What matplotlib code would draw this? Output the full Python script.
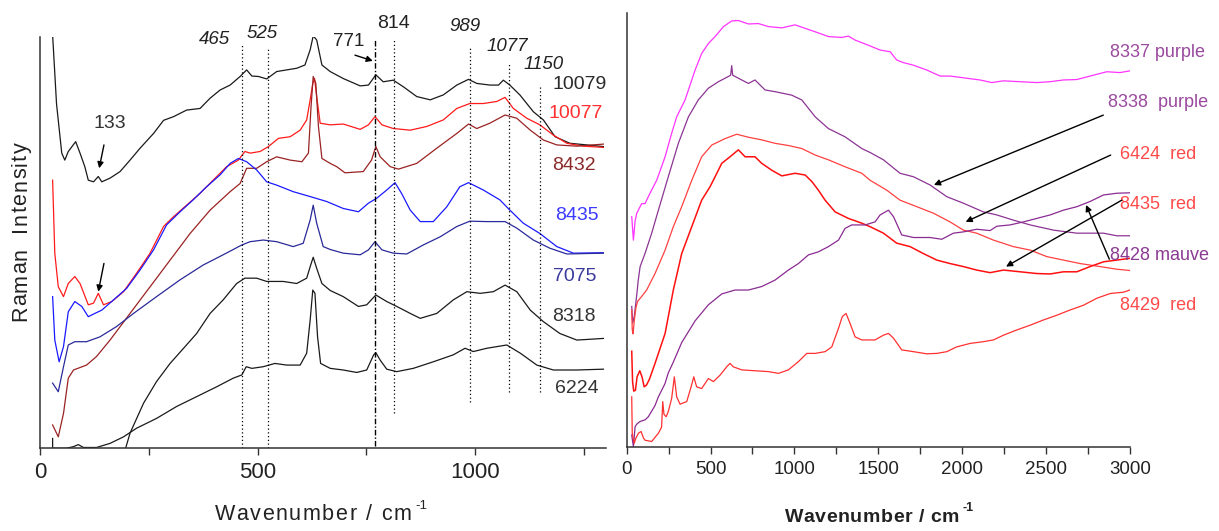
import matplotlib
matplotlib.use("Agg")
import matplotlib.pyplot as plt
from matplotlib import font_manager as fm
from matplotlib.font_manager import FontProperties

# ---------------- data ----------------
# Left panel: Raman spectra (wavenumber, relative intensity 0-100)
s10079 = [(29,100.8),(38,84),(50,72),(57,70.3),(65,72.4),(82,74.8),(92,72),(103,68.7),(111,65.4),(123,65),
          (134,66.3),(142,65),(161,65.9),(184,67.5),(207,70.3),(230,73.2),(261,76.8),(284,80),(307,80.9),
          (337,82.5),(368,82.9),(391,85.4),(414,87.4),(437,88.6),(460,90.7),(475,92.3),(487,90.8),(502,90.7),
          (521,90.1),(544,91.9),(567,92.3),(590,92.7),(609,93.5),(621,97.2),(628,100.6),(636,99.6),(648,93.5),
          (667,91.9),(697,90.2),(736,88.4),(755,88.6),(772,91.1),(789,89.4),(812,89.8),(835,88.2),(866,85.8),
          (897,85),(927,86.2),(958,88.6),(985,90),(1004,89),(1034,88.6),(1054,88.6),(1065,89.8),(1080,88.6),
          (1103,86.2),(1134,82.1),(1157,80.1),(1184,76),(1218,74.4),(1257,74),(1295,73.6)]
s10077 = [(29,65.4),(34,47.6),(42,39.4),(54,37),(65,40.2),(80,41.9),(92,40.2),(111,35),(123,35.4),(134,37.8),
          (146,35),(165,35.8),(192,38.2),(222,42.7),(253,47.6),(284,54.1),(307,56.5),(337,59.3),(368,62.2),
          (398,65.4),(429,68.7),(456,70.3),(471,72.4),(483,72),(506,72.4),(525,73.6),(548,75.6),(575,76),
          (598,77.6),(613,80.1),(621,85),(627,89),(631,90.2),(636,85.8),(644,79.3),(667,78.9),(697,79.1),
          (736,77.8),(755,78.9),(770,80.9),(786,78.9),(812,78),(851,77.6),(889,78.5),(927,80.1),(958,82.9),
          (988,84.1),(1019,84.1),(1050,84.6),(1069,85.6),(1088,82.9),(1119,80.5),(1149,78.9),(1180,76.4),
          (1211,74.4),(1249,73.7),(1295,73.4)]
s8432 = [(29,5.7),(42,2.8),(54,8.5),(65,17.1),(77,19.1),(107,20.3),(130,22.4),(161,26.4),(207,32.9),(253,39.4),
         (299,45.9),(345,52.4),(391,58.1),(437,62.6),(460,64.6),(475,68.3),(498,68.3),(521,69.9),(544,71.1),
         (575,70.3),(602,69.9),(617,72),(623,83.3),(628,90.7),(634,89),(640,78.5),(648,70.7),(667,69.5),
         (682,68.7),(701,67.2),(743,67.5),(762,70.3),(772,73.6),(782,71.1),(805,68.7),(824,68.1),(866,69.5),
         (912,73.2),(958,76.8),(985,79.1),(1004,78),(1034,79.3),(1069,81.3),(1096,80.5),(1127,77.6),
         (1157,75.2),(1188,74),(1234,73.7),(1295,74.2)]
s8435 = [(29,37),(34,26.4),(44,21.1),(54,24.8),(65,33.3),(80,35.8),(96,34.6),(111,32.1),(126,32.9),(142,33.7),
         (169,36.2),(199,39),(230,43.5),(261,48.4),(291,54.5),(322,57.7),(352,60.6),(383,63.8),(414,66.7),
         (437,69.5),(456,70.7),(475,69.9),(498,67.9),(521,65),(544,64.2),(582,62.6),(621,61.4),(659,60.2),
         (697,58.5),(732,57.7),(755,59.8),(774,61),(797,63),(816,64.8),(831,62.2),(851,58.1),(874,55.3),
         (904,55.3),(935,58.9),(965,63.8),(985,64.8),(1019,63),(1057,60.6),(1080,58.1),(1111,54.9),
         (1149,52.4),(1188,49.2),(1226,47.6),(1295,47.7)]
s7075 = [(29,15.9),(42,13.8),(54,19.9),(65,25.2),(80,26),(107,26),(138,27.2),(176,29.7),(215,32.9),(268,37),
         (322,41.1),(375,44.7),(421,47.2),(464,49.6),(483,50.4),(513,50.8),(544,50.4),(582,49.2),(605,50),
         (621,55.7),(628,59.3),(636,54.9),(651,49.2),(667,48.5),(697,47.6),(736,47.2),(755,48.4),(770,50.4),
         (786,48.4),(812,47.6),(843,47.4),(881,49.6),(920,51.6),(958,54.1),(988,55.4),(1027,55.3),(1069,55.3),
         (1096,53.7),(1134,50.8),(1172,48.8),(1211,47.4),(1295,47.6)]
s8318 = [(194,-1),(207,3.7),(238,11),(268,16.3),(299,20.7),(330,24.4),(360,28),(391,32.9),(421,36.2),(452,40.2),
         (471,41.5),(498,41.5),(521,40.7),(559,40.7),(590,40.2),(613,41.5),(621,44.3),(628,46.6),(636,43.9),
         (648,40.2),(667,38.5),(697,37),(732,34.6),(751,35),(772,37.4),(797,35.8),(820,34.6),(851,32.9),
         (874,31.7),(912,32.9),(950,36.2),(981,38.2),(1012,37.8),(1042,38.2),(1069,39.8),(1096,38.2),
         (1127,33.7),(1157,30.9),(1195,28),(1234,26.4),(1295,26.8)]
s6224 = [(29,2.4),(29,0),(60,0),(77,0.4),(88,0.9),(100,0.2),(130,0.2),(161,1.2),(192,2.8),(222,4.9),(268,7.3),
         (314,10.2),(360,12.6),(406,15),(444,17.1),(464,17.9),(474,19.9),(487,19.5),(513,19.9),(540,20.7),
         (567,20.3),(598,20.3),(613,23.2),(621,31.3),(627,38.6),(632,37.8),(638,27.2),(645,20.7),(667,19.5),
         (697,19.1),(728,18.5),(751,19.1),(767,22.8),(772,23.3),(782,21.5),(797,19.3),(820,18.7),(858,19.5),
         (904,21.1),(950,22.8),(977,24.4),(996,23.6),(1027,24.4),(1073,25.2),(1104,23.2),(1142,20.3),
         (1180,19.1),(1234,19.1),(1295,19.3)]

left_names = ["10079", "10077", "8432", "8435", "7075", "8318", "6224"]
left_label_pos = [(1241, 88.8), (1232, 81.7), (1228, 69.1), (1234, 56.7), (1230, 42.0), (1228, 32.1), (1234, 14.6)]

# band positions marked with vertical lines (cm-1)
bands = [465, 525, 771, 814, 989, 1077, 1150]
band_top = [98.8, 98.0, 99.8, 100.0, 97.6, 93.9, 88.6]
band_bottom = [0, 0, 0.5, 8.5, 11.4, 13.8, 13.8]
band_label_pos = [(402, 99.6), (510, 101.2), (709, 99.2), (812, 103.7), (977, 103.0), (1073, 98.0), (1157, 93.5)]
band_italic = [True, True, False, False, True, True, True]

# Right panel spectra
r8337 = [(30,53),(40,47.6),(50,52),(60,53.8),(89,56),(109,56),(139,58.4),(179,61.4),(229,66.8),(268,72.2),
         (298,76),(348,79.9),(408,86.8),(447,90.6),(487,92.9),(527,94.5),(577,96.8),(626,98.1),(666,98.2),
         (726,97.4),(785,97.5),(845,96.8),(925,96.5),(1004,97.2),(1064,96.4),(1124,95.6),(1203,94.5),
         (1282,94.3),(1322,94.6),(1362,93.7),(1441,92.5),(1511,91.4),(1571,91),(1610,89.1),(1650,88.5),
         (1710,87.9),(1789,86.8),(1869,85.4),(1928,85.4),(2028,84.9),(2107,84.5),(2177,83.9),(2247,84.3),
         (2346,84.1),(2445,83.9),(2525,84.1),(2604,84.5),(2684,84.6),(2763,85.4),(2863,86.4),(2942,86.2),
         (3000,86.6)]
r8338 = [(30,32.3),(36,28.5),(45,30),(60,35),(69,38.4),(80,41.5),(109,44.5),(149,49.2),(189,54.5),(248,62.2),
         (308,69.9),(368,76),(427,79.9),(487,82.6),(547,84.1),(606,85.3),(620,85.6),(626,87.8),(632,85.6),
         (686,84.5),(726,83.7),(765,84.5),(825,82.2),(885,81.8),(984,81),(1044,79.9),(1124,76),(1203,73.3),
         (1302,71.4),(1402,68.7),(1451,67.8),(1531,66.1),(1630,63),(1710,62.2),(1809,60.3),(1909,57.6),
         (2008,56.1),(2127,54.1),(2207,53.4),(2306,52.2),(2406,51.1),(2545,49.9),(2684,49.2),(2843,49.2),
         (2922,48.6),(3000,48.6)]
r6424 = [(30,31.5),(33,27),(38,26),(45,29),(55,32),(65,33.5),(89,34.6),(119,36.1),(169,39.9),(229,45.3),
         (278,50.7),(328,55.3),(388,61.4),(447,66.8),(507,69.5),(587,71),(656,72),(726,71.3),(805,70.7),
         (885,69.9),(964,69.4),(1044,68.7),(1124,67.2),(1203,66.1),(1302,64.5),(1402,63),(1451,61.4),
         (1551,59.1),(1630,56.8),(1730,55.3),(1829,53.8),(1928,51.8),(2008,49.9),(2087,49.2),(2187,47.6),
         (2306,46.1),(2406,45.3),(2505,43.8),(2604,43),(2704,42.2),(2823,41.5),(2922,40.9),(3000,40.6)]
r8435 = [(30,22),(35,15),(42,12.8),(52,13),(62,16.1),(78,17.5),(92,16),(104,13.8),(118,14.2),(135,15.5),
         (169,19.2),(229,26.1),(278,36.1),(328,44.5),(388,50.7),(447,56.8),(497,59.9),(527,62.2),(567,65.3),
         (616,66.8),(666,68.4),(706,66.8),(765,66.8),(805,65.3),(865,63.7),(925,62.4),(1004,63),(1064,62.6),
         (1104,61.1),(1143,59.1),(1183,56.8),(1243,54.1),(1322,52.6),(1402,51.5),(1451,50.7),(1531,49.2),
         (1610,46.9),(1690,46.1),(1769,44.5),(1849,43),(1928,42.2),(2008,41.5),(2087,40.7),(2167,40.1),
         (2247,40.7),(2346,40.3),(2445,39.9),(2525,39.8),(2604,40.3),(2684,40.3),(2763,41.5),(2843,42.6),
         (2922,43),(3000,43.4)]
r8428 = [(30,2.7),(40,0),(50,4.6),(60,5.2),(79,5.8),(110,6.2),(129,6.9),(169,9.5),(189,11.5),(228,14.5),
         (248,17),(278,19.5),(328,24),(408,29),(487,32.7),(567,35.2),(646,36.1),(726,36.1),(805,36.9),
         (885,38.4),(964,40.7),(1024,42.2),(1084,44.2),(1143,44.9),(1203,46.1),(1263,47.6),(1302,50.3),
         (1342,51.1),(1422,51.1),(1481,51.8),(1511,53.4),(1561,54.5),(1591,53),(1640,48.8),(1710,48.2),
         (1809,48.2),(1879,47.8),(1948,49.2),(2008,49.5),(2087,50.1),(2167,49.8),(2207,50.8),(2286,51.1),
         (2366,51.8),(2445,52.6),(2525,53.4),(2604,54.5),(2684,55.3),(2763,56.5),(2843,58),(2922,58.4),
         (3000,58.5)]
r8429 = [(30,11.5),(33,3.1),(45,0.8),(55,2),(70,3.1),(86,3.5),(100,2),(109,1.5),(149,1.2),(189,3.1),(208,4.5),
         (215,10.4),(222,7.5),(235,6.9),(248,8.1),(268,11.1),(284,16.1),(298,11.5),(318,9.8),(358,10.4),
         (384,13.8),(400,16.1),(417,13.8),(447,13.4),(487,15.7),(517,15),(557,16.5),(596,18.4),(616,19.2),
         (636,18.4),(686,17.7),(765,17.5),(845,17.3),(905,16.9),(964,17.7),(1024,19.6),(1074,21.5),
         (1124,21.5),(1183,21.9),(1223,23),(1263,27.3),(1286,30),(1308,30.7),(1332,28.4),(1362,25.3),
         (1402,24.6),(1481,24.6),(1531,25.7),(1561,26.1),(1591,25),(1640,22.3),(1710,21.9),(1789,21.4),
         (1849,21.5),(1909,21.9),(1968,23),(2048,23.8),(2127,24.2),(2187,24.6),(2247,25.7),(2326,26.9),
         (2406,28),(2485,29.2),(2565,30.3),(2644,31.5),(2724,32.6),(2803,34.2),(2883,35.3),(2962,35.6),
         (3000,36.1)]

right_names = ["8337 purple", "8338  purple", "6424  red", "8435  red", "8428 mauve", "8429  red"]
right_label_pos = [(2882, 90.8), (2872, 79.3), (2940, 67.4), (2940, 55.8), (2882, 44.1), (2940, 32.6)]
# arrows: (from x, from y, to x, to y)
right_arrows = [(2842, 76.4, 1832, 60.3), (2886, 67.2, 2021, 51.8), (2952, 56.8, 2262, 41.5), (2878, 43.2, 2739, 55.7)]

left_ticks = [0, 500, 1000]
right_ticks = [0, 500, 1000, 1500, 2000, 2500, 3000]

# ---------------- styling ----------------
names = {f.name for f in fm.fontManager.ttflist}
SANS = "Liberation Sans" if "Liberation Sans" in names else "DejaVu Sans"
NARROW = "Liberation Sans Narrow" if "Liberation Sans Narrow" in names else None
plt.rcParams["font.family"] = [SANS, "DejaVu Sans"]

W, H = 1219, 531
fig = plt.figure(figsize=(W / 100, H / 100), dpi=100)
axL = fig.add_axes([40 / W, 1 - 448.3 / H, 566 / W, 411.6 / H])
axR = fig.add_axes([626.7 / W, 1 - 446.7 / H, 503.1 / W, 434 / H])

for ax in (axL, axR):
    for s in ("top", "right"):
        ax.spines[s].set_visible(False)
    for s in ("left", "bottom"):
        ax.spines[s].set_linewidth(1.1)
        ax.spines[s].set_color("#333333")
    ax.set_yticks([])
    ax.tick_params(axis="x", which="both", direction="out", length=5, width=1, color="#333333",
                   pad=5, labelcolor="#222222")

axL.set_xlim(0, 1301)
axL.set_ylim(0, 100.4)
axL.set_xticks(left_ticks)
axL.set_xticks([250, 750, 1250], minor=True)
axL.tick_params(axis="x", labelsize=16)

axR.set_xlim(0, 3000)
axR.set_ylim(0, 100)
axR.set_xticks(right_ticks)
axR.set_xticks([250, 750, 1250, 1750, 2250, 2750], minor=True)
axR.tick_params(axis="x", labelsize=13.5)

left_series = [s10079, s10077, s8432, s8435, s7075, s8318, s6224]
left_colors = ["#1a1a1a", "#ff1a1a", "#9a2222", "#1a1aff", "#2a2a9a", "#1a1a1a", "#1a1a1a"]
left_text_colors = ["#2a2a2a", "#ff3030", "#8b2a2a", "#3a3aff", "#3a3a9e", "#333333", "#333333"]
for pts, col in zip(left_series, left_colors):
    xs, ys = zip(*pts)
    axL.plot(xs, ys, color=col, lw=0.9)

for name, (x, y), col in zip(left_names, left_label_pos, left_text_colors):
    axL.text(x, y, name, color=col, fontsize=14, ha="center", va="center", clip_on=False)

for b, top, bot in zip(bands, band_top, band_bottom):
    if b == 771:
        axL.plot([b, b], [bot, top], color="k", lw=1.0, ls=(0, (4, 1.5, 1, 1.5)))
    else:
        axL.plot([b, b], [bot, top], color="k", lw=0.9, ls=(0, (1, 2)))
for b, (x, y), it in zip(bands, band_label_pos, band_italic):
    axL.text(x, y, str(b), fontsize=14 if b == 814 else 13.5, style="italic" if it else "normal",
             color="#222222", ha="center", va="center", clip_on=False)

axL.text(161, 79.3, "133", fontsize=14, color="#333333", ha="center", va="center")
arrow_kw = dict(arrowstyle="-|>", lw=1.0, color="k", mutation_scale=9, shrinkA=0, shrinkB=0)
for (x0, y0, x1, y1) in [(147, 74, 136, 68.3), (147, 45.1, 134, 38.2), (724, 95.9, 765, 94.5)]:
    axL.annotate("", xy=(x1, y1), xytext=(x0, y0), arrowprops=arrow_kw, annotation_clip=False)

right_series = [r8337, r8338, r6424, r8435, r8428, r8429]
right_colors = ["#ff33ff", "#8c3494", "#ff4040", "#ff1010", "#8a2b92", "#ff3030"]
right_text_colors = ["#9a4a9e", "#9a4a9e", "#ff4a4a", "#ff4a4a", "#8a3a92", "#ff4a4a"]
right_lw = [0.9, 0.9, 0.9, 1.1, 0.9, 0.9]
for pts, col, lw in zip(right_series, right_colors, right_lw):
    xs, ys = zip(*pts)
    axR.plot(xs, ys, color=col, lw=lw)

for name, (x, y), col in zip(right_names, right_label_pos, right_text_colors):
    if NARROW:
        axR.text(x, y, name, color=col, fontsize=15, family=NARROW, ha="left", va="center", clip_on=False)
    else:
        axR.text(x, y, name, color=col, fontsize=13, ha="left", va="center", clip_on=False)

for (x0, y0, x1, y1) in right_arrows:
    axR.annotate("", xy=(x1, y1), xytext=(x0, y0), arrowprops=arrow_kw, annotation_clip=False)

# ---------------- letter-spaced axis labels ----------------
renderer = fig.canvas.get_renderer()


def spaced_text(cx, cy, s, fp, spacing, rotation=0, sup=None, sup_fp=None, color="#222222"):
    def wid(t):
        return renderer.get_text_width_height_descent(t, fp, ismath=False)[0] if t.strip() else 0.0
    total = wid(s) + spacing * (len(s) - 1)
    for i, ch in enumerate(s):
        if ch == " ":
            continue
        left = wid(s[:i + 1]) - wid(ch) + spacing * i
        off = left - total / 2
        if rotation == 0:
            fig.text((cx + off) / W, 1 - cy / H, ch, fontproperties=fp, ha="left", va="center", color=color)
        else:
            fig.text(cx / W, 1 - (cy - off) / H, ch, fontproperties=fp, rotation=90,
                     ha="center", va="bottom", color=color)
    if sup:
        fig.text((cx + total / 2 + spacing + 3) / W, 1 - (cy - 9) / H, sup, fontproperties=sup_fp,
                 ha="left", va="center", color=color)


fpL = FontProperties(family=SANS, size=15.5)
spaced_text(313, 515, "Wavenumber / cm", fpL, 1.6, sup="-1", sup_fp=FontProperties(family=SANS, size=9.5))
spaced_text(21, 232, "Raman  Intensity", fpL, 1.2, rotation=90)

fpR = FontProperties(family=SANS, size=14, weight="bold")
spaced_text(872, 517, "Wavenumber / cm", fpR, 0.6, sup="-1",
            sup_fp=FontProperties(family=SANS, size=9, weight="bold"))

fig.savefig("out.png", dpi=100)
